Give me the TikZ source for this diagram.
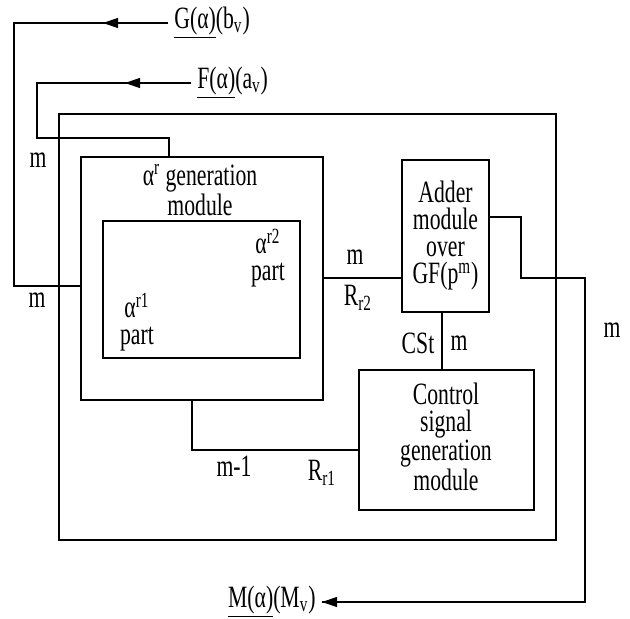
\documentclass[tikz,border=0pt]{standalone}
\usepackage{fontspec}
\setmainfont[FakeStretch=0.7]{Liberation Serif}
\usetikzlibrary{arrows.meta,fit}
\tikzset{
  box/.style={draw,inner sep=0pt,line width=0.6pt},
  lbl/.style={inner sep=0pt,align=center,font=\fontsize{15.5}{13.5}\selectfont},
  ext/.style={lbl,inner xsep=3pt},
  wire/.style={line width=0.6pt},
  tip/.style={wire,-{Triangle[length=7.5pt,width=5pt]}}
}

\begin{document}
\begin{tikzpicture}[x=0.5pt,y=-0.5pt]
\useasboundingbox (0,0) rectangle (630,619);
\node[box,fit={(59,114)(556,540)}] (frame) {};
\node[box,fit={(81,157)(323,400)}] (gen) {};
\node[box,fit={(103,221)(300,358)}] (parts) {};
\node[box,fit={(402,160)(489,312)}] (add) {};
\node[box,fit={(359,370)(534,510)}] (ctl) {};
\node[lbl] (gentxt) at (200,190) {α\textsuperscript{r} generation\\module};
\node[lbl] (r2txt) at (268,258) {α\textsuperscript{r2}\\part};
\node[lbl] (r1txt) at (137,322) {α\textsuperscript{r1}\\part};
\node[lbl] (addtxt) at (add.center) {Adder\\module\\over\\GF(p\textsuperscript{m})};
\node[lbl] (ctltxt) at (446,437) {Control\\signal\\generation\\module};
\node[ext,anchor=west] (gsrc) at (168,23) {\underline{G(α)}(b\textsubscript{v})};
\node[ext,anchor=west] (fsrc) at (191,83) {\underline{F(α)}(a\textsubscript{v})};
\node[ext,anchor=east] (mdst) at (322,602) {\underline{M(α)}(M\textsubscript{v})};
\node[lbl] (mg) at (37,300) {m};
\node[lbl] (mf) at (38,160) {m};
\node[lbl] (m2) at (355,257) {m};
\node[lbl] (r2) at (358,298) {R\textsubscript{r2}};
\node[lbl] (cst) at (418,343) {CSt};
\node[lbl] (mc) at (459,343) {m};
\node[lbl] (mo) at (612,330) {m};
\node[lbl] (m1) at (234,466) {m-1};
\node[lbl] (r1) at (322,473) {R\textsubscript{r1}};
\draw[tip] (gsrc.west) -- (103,23);
\draw[wire] (gsrc.west) -- (14,23) |- (gen.west |- 0,286);
\draw[tip] (fsrc.west) -- (125,83);
\draw[wire] (fsrc.west) -- (37,83) -- (37,138) -| (gen.north -| 169,0);
\draw[wire] (gen.east |- 0,278) -- (add.west |- 0,278);
\draw[wire] (add.east |- 0,217) -| (521,278) -| (585,602) -- (mdst.east);
\draw[tip] (585,602) -- (mdst.east);
\draw[wire] (add.south -| 442,0) -- (ctl.north -| 442,0);
\draw[wire] (gen.south -| 192,0) |- (ctl.west |- 0,450);
\end{tikzpicture}
\end{document}
